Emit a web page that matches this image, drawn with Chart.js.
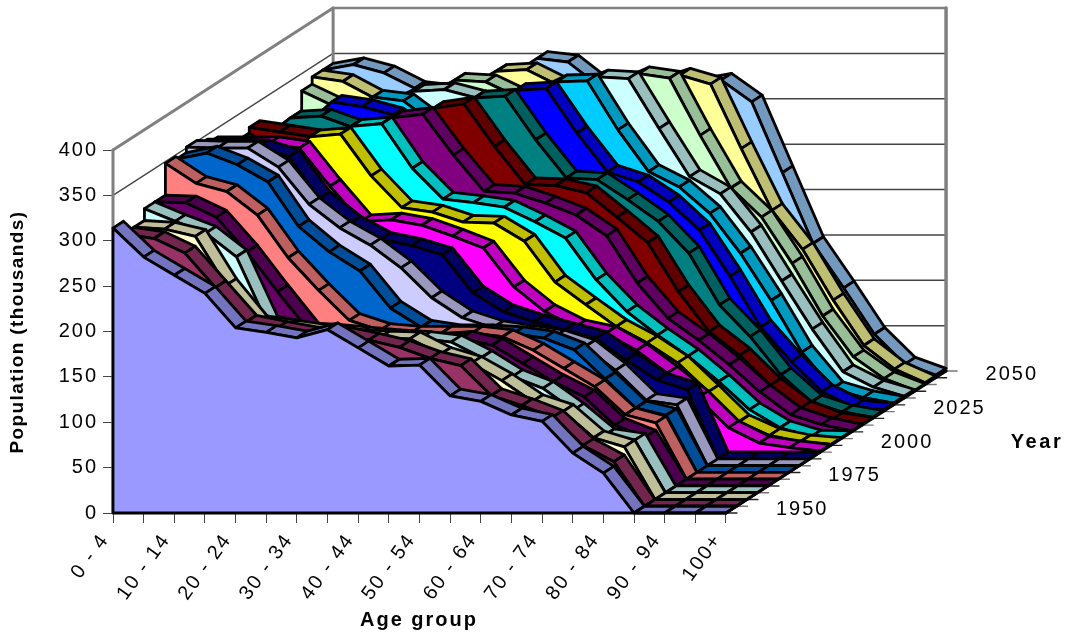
<!DOCTYPE html>
<html><head><meta charset="utf-8">
<style>html,body{margin:0;padding:0;background:#fff}canvas{display:block}</style>
<script src="https://cdn.jsdelivr.net/npm/chart.js@4"></script>
</head><body><canvas id="c" width="1068" height="635"></canvas>
<script>
const ageGroups=["0 - 4","5 - 9","10 - 14","15 - 19","20 - 24","25 - 29","30 - 34","35 - 39","40 - 44","45 - 49","50 - 54","55 - 59","60 - 64","65 - 69","70 - 74","75 - 79","80 - 84","85 - 89","90 - 94","95 - 99","100+"];
const years=[1950,1955,1960,1965,1970,1975,1980,1985,1990,1995,2000,2005,2010,2015,2020,2025,2030,2035,2040,2045,2050];
const yearTicks=[1950,1975,2000,2025,2050];
const pop1950=[314,282,262,242,204,199,193,202,182,162,163,129,123,108,101,66,44,0,0,0,0];
const pop1955=[300,295,279,241,203,196,190,190,183,175,163,155,122,111,98,67,49,0,0,0,0];
const pop1960=[300,298,290,236,195,190,185,180,178,177,160,150,131,108,97,68,58,0,0,0,0];
const pop1965=[313,299,286,260,187,180,178,175,172,170,166,149,128,115,91,63,58,0,0,0,0];
const pop1970=[313,312,296,258,214,172,165,160,160,160,163,155,135,115,98,67,54,0,0,0,0];
const pop1975=[348,326,317,291,244,208,175,164,161,161,161,157,142,122,102,71,62,0,0,0,0];
const pop1980=[345,352,339,320,271,243,222,181,160,155,155,153,148,135,103,71,63,0,0,0,0];
const pop1985=[351,350,350,329,288,262,243,218,185,163,152,147,142,131,105,72,67,0,0,0,0];
const pop1990=[345,345,344,333,287,260,242,235,225,183,162,151,142,133,109,87,76,0,0,0,0];
const pop1995=[340,340,340,335,293,254,256,250,238,225,182,155,138,131,112,87,60,27,10,5,1];
const pop2000=[270,280,300,340,343,297,262,257,246,245,225,180,155,131,113,91,59,26,11,4,1];
const pop2005=[270,280,290,300,344,347,298,264,260,255,239,221,175,140,114,91,63,32,12,2,1];
const pop2010=[322,300,300,300,300,346,350,305,265,263,252,239,216,164,125,101,74,44,19,8,1];
const pop2015=[328,323,318,290,300,310,349,354,307,265,264,256,229,201,147,103,77,44,19,6,1];
const pop2020=[305,331,333,321,300,310,320,353,355,307,265,263,241,217,182,125,90,48,18,7,1];
const pop2025=[300,310,341,336,327,305,315,330,354,356,307,264,253,231,200,149,93,55,22,5,2];
const pop2030=[295,305,318,339,335,310,315,325,340,356,357,303,257,240,211,167,115,58,18,8,2];
const pop2035=[290,300,310,322,338,340,331,320,330,340,354,352,297,244,225,183,129,76,29,12,2];
const pop2040=[331,315,305,310,322,343,341,325,325,330,335,350,345,282,224,192,141,83,38,14,1];
const pop2045=[339,334,316,305,310,325,345,347,330,325,325,330,341,331,260,192,149,93,43,17,2];
const pop2050=[339,345,336,319,315,320,330,352,348,322,318,320,322,328,304,226,148,99,48,15,3];
const seriesValues=[pop1950,pop1955,pop1960,pop1965,pop1970,pop1975,pop1980,pop1985,pop1990,pop1995,pop2000,pop2005,pop2010,pop2015,pop2020,pop2025,pop2030,pop2035,pop2040,pop2045,pop2050];
const seriesColors=["#9999FF","#993366","#FFFFCC","#CCFFFF","#660066","#FF8080","#0066CC","#CCCCFF","#000080","#FF00FF","#FFFF00","#00FFFF","#800080","#800000","#008080","#0000FF","#00CCFF","#CCFFFF","#CCFFCC","#FFFF99","#99CCFF"];

const DX=0.342, DY=7.45, N=years.length, LAST=ageGroups.length-1;
const FONT='"Liberation Sans", Arial, sans-serif';
const proj=(i,v,k)=>({x:i+k*DX,y:v+k*DY});
const shade=h=>{const n=parseInt(h.slice(1),16);const f=c=>Math.round(c*0.75);return `rgb(${f(n>>16)},${f((n>>8)&255)},${f(n&255)})`};
const poly=(pts,fill,line,w)=>({data:pts.concat(fill?[pts[0]]:[]),showLine:true,fill:fill?'shape':false,backgroundColor:fill||'transparent',borderColor:line,borderWidth:w,pointRadius:0,pointHoverRadius:0,tension:0,clip:false,borderJoinStyle:'round',borderCapStyle:'round'});

const paint=[];
const WALL='#808080', GRID='#444444';
[50,100,150,200,250,300,350,400].forEach(v=>{
  paint.push(poly([proj(0,v,0),proj(0,v,N)],null,v===400?WALL:GRID,v===400?3:1.3));
  paint.push(poly([proj(0,v,N),proj(LAST,v,N)],null,GRID,v===400?2:1.5));
});
paint.push(poly([proj(0,0,0),proj(0,400,0)],null,WALL,3));
paint.push(poly([proj(0,400,N),proj(LAST,400,N)],null,WALL,2.5));
paint.push(poly([proj(0,400,N),proj(0,0,N)],null,WALL,3));
paint.push(poly([proj(LAST,400,N),proj(LAST,0,N)],null,WALL,3.5));
for(let k=0;k<=N;k++){const a=proj(LAST,0,k);paint.push(poly([a,{x:a.x+0.36,y:a.y}],null,k%2?'#777777':'#222222',1.4));}
for(let k=N-1;k>=0;k--){
  const vals=seriesValues[k], top=shade(seriesColors[k]);
  for(let i=0;i<LAST;i++){
    paint.push(poly([proj(i,vals[i],k),proj(i+1,vals[i+1],k),proj(i+1,vals[i+1],k+1),proj(i,vals[i],k+1)],top,'#000',2.8));
  }
  const face=[proj(0,0,k)];vals.forEach((v,i)=>face.push(proj(i,v,k)));face.push(proj(LAST,0,k));
  paint.push(poly(face,seriesColors[k],'#000',2.8));
}
paint.push(poly([proj(LAST,0,0),proj(LAST,0,N)],null,'#000',3));

const textPlugin={id:'txt',
 beforeDraw(c){c.ctx.letterSpacing='2px';},
 afterDatasetsDraw(c){
  const x=c.scales.x,y=c.scales.y,g=c.ctx;
  g.save();g.letterSpacing='2px';g.fillStyle='#000';g.textBaseline='middle';g.textAlign='center';
  g.font='20px '+FONT;
  yearTicks.forEach(yr=>{const k=years.indexOf(yr)+0.5,p=proj(LAST,0,k);
    g.fillText(String(yr),x.getPixelForValue(p.x)+71,y.getPixelForValue(p.y));});
  g.font='bold 20px '+FONT;
  g.fillText('Age group',419,620);
  g.letterSpacing='2.6px';
  g.fillText('Year',1037,442);
  g.letterSpacing='1.4px';
  g.translate(18,332);g.rotate(-Math.PI/2);g.font='bold 19px '+FONT;
  g.fillText('Population (thousands)',0,0);
  g.restore();
 }};

new Chart(document.getElementById('c'),{type:'scatter',plugins:[textPlugin],
 data:{datasets:paint.slice().reverse()},
 options:{responsive:false,animation:false,events:[],
  layout:{padding:{left:0,top:8,right:122,bottom:0}},
  plugins:{legend:{display:false},tooltip:{enabled:false},title:{display:false}},
  scales:{
   x:{type:'linear',min:0,max:27.18,
     afterBuildTicks:s=>{s.ticks=ageGroups.map((_,i)=>({value:i}));},
     afterFit:s=>{s.height=122;s.paddingLeft=0;s.paddingRight=0;},
     grid:{drawOnChartArea:false,drawTicks:true,tickLength:10,tickColor:'#444'},border:{display:false},
     ticks:{autoSkip:false,minRotation:54,maxRotation:54,padding:6,labelOffset:-8,color:'#000',font:{family:FONT,size:20},
       callback:v=>(v%2===0?ageGroups[v]:'')}},
   y:{type:'linear',min:0,max:556.5,
     afterBuildTicks:s=>{s.ticks=[0,50,100,150,200,250,300,350,400].map(v=>({value:v}));},
     afterFit:s=>{s.width=113;s.paddingTop=0;s.paddingBottom=0;},
     grid:{drawOnChartArea:false,drawTicks:true,tickLength:10,tickColor:'#444'},border:{display:false},
     ticks:{padding:5,color:'#000',font:{family:FONT,size:20},callback:v=>String(v)}}
  }}});
</script></body></html>
